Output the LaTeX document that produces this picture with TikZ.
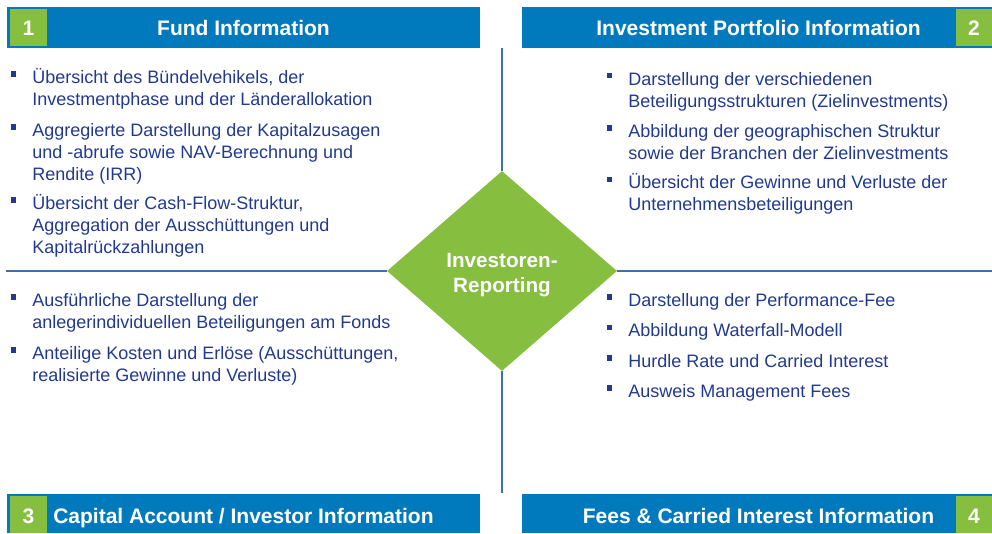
\documentclass[tikz,border=0pt]{standalone}
\usepackage{fontspec}
\setmainfont{Liberation Sans}
\usetikzlibrary{shapes.geometric}
\definecolor{hdrblue}{RGB}{0,122,189}
\definecolor{grn}{RGB}{134,190,64}
\definecolor{txtblue}{RGB}{33,58,143}
\definecolor{lineblue}{RGB}{62,112,175}
\begin{document}
\begin{tikzpicture}[x=0.75pt,y=-0.75pt,
  hdrbar/.style={fill=hdrblue, draw=none, inner sep=0pt, minimum height=30.75pt},
  numbox/.style={fill=grn, draw=none, inner sep=0pt, minimum width=27.75pt, minimum height=27.75pt},
  hdrtext/.style={text=white, inner sep=0pt, font=\fontsize{15.75}{18}\selectfont\bfseries},
  item/.style={text=txtblue, inner sep=0pt, anchor=base west, align=left, font=\fontsize{13.5}{16.5}\selectfont},
  bul/.style={fill=txtblue, draw=none, inner sep=0pt, minimum size=3.9pt},
  divider/.style={draw=lineblue, line width=2.2pt},
  centerdia/.style={diamond, fill=grn, draw=none, inner sep=0pt, minimum width=172.5pt, minimum height=150pt},
  diatext/.style={text=white, inner sep=0pt, anchor=base, align=center, font=\fontsize{15.5}{18.75}\selectfont\bfseries}
]
\useasboundingbox (0,0) rectangle (992,533);

% headers
\node[hdrbar, minimum width=354.75pt] (h1) at (243.5,27.5) {};
\node[numbox] (n1) at (28.5,27.5) {};
\node[hdrtext, anchor=base] (t1) at (243.5,35) {Fund Information};
\node[hdrtext, anchor=base] (k1) at (28.5,35) {1};

\node[hdrbar, minimum width=352.5pt] (h2) at (757,27.5) {};
\node[numbox, minimum width=27pt] (n2) at (974,27.5) {};
\node[hdrtext, anchor=base] (t2) at (758.5,35) {Investment Portfolio Information};
\node[hdrtext, anchor=base] (k2) at (974,35) {2};

\node[hdrbar, minimum width=354.75pt, minimum height=29.25pt] (h3) at (243.5,513.5) {};
\node[numbox] (n3) at (28.5,514.5) {};
\node[hdrtext, anchor=base west] (t3) at (53,523) {Capital Account / Investor Information};
\node[hdrtext, anchor=base] (k3) at (28.5,523) {3};

\node[hdrbar, minimum width=352.5pt, minimum height=29.25pt] (h4) at (757,513.5) {};
\node[numbox, minimum width=27pt] (n4) at (974,514.5) {};
\node[hdrtext, anchor=base] (t4) at (758.5,523) {Fees \& Carried Interest Information};
\node[hdrtext, anchor=base] (k4) at (974,523) {4};

% center diamond and dividers
\node[centerdia] (dia) at (502,271) {};
\node[diatext] (dtxt) at (502,292) {Investoren-\\Reporting};
\coordinate (vtop) at (502,48);
\coordinate (vbot) at (502,493);
\coordinate (hleft) at (6,271);
\coordinate (hright) at (992,271);
\draw[divider] (vtop) -- (dia.north);
\draw[divider] (dia.south) -- (vbot);
\draw[divider] (hleft) -- (dia.west);
\draw[divider] (dia.east) -- (hright);

% quadrant 1 (node positions = baseline of last line)
\node[bul] (b11) at (13.5,74) {};
\node[item] (i11) at (32,105) {Übersicht des Bündelvehikels, der\\Investmentphase und der Länderallokation};
\node[bul] (b12) at (13.5,127) {};
\node[item] (i12) at (32,180.5) {Aggregierte Darstellung der Kapitalzusagen\\und -abrufe sowie NAV-Berechnung und\\Rendite (IRR)};
\node[bul] (b13) at (13.5,200) {};
\node[item] (i13) at (32,253.5) {Übersicht der Cash-Flow-Struktur,\\Aggregation der Ausschüttungen und\\Kapitalrückzahlungen};

% quadrant 2
\node[bul] (b21) at (609.5,75.5) {};
\node[item] (i21) at (628,107) {Darstellung der verschiedenen\\Beteiligungsstrukturen (Zielinvestments)};
\node[bul] (b22) at (609.5,128) {};
\node[item] (i22) at (628,159.5) {Abbildung der geographischen Struktur\\sowie der Branchen der Zielinvestments};
\node[bul] (b23) at (609.5,179.5) {};
\node[item] (i23) at (628,210.5) {Übersicht der Gewinne und Verluste der\\Unternehmensbeteiligungen};

% quadrant 3
\node[bul] (b31) at (13.5,297) {};
\node[item] (i31) at (32,328.5) {Ausführliche Darstellung der\\anlegerindividuellen Beteiligungen am Fonds};
\node[bul] (b32) at (13.5,350) {};
\node[item] (i32) at (32,381.5) {Anteilige Kosten und Erlöse (Ausschüttungen,\\realisierte Gewinne und Verluste)};

% quadrant 4
\node[bul] (b41) at (609.5,297) {};
\node[item] (i41) at (628,306.5) {Darstellung der Performance-Fee};
\node[bul] (b42) at (609.5,327.5) {};
\node[item] (i42) at (628,336.5) {Abbildung Waterfall-Modell};
\node[bul] (b43) at (609.5,358) {};
\node[item] (i43) at (628,367) {Hurdle Rate und Carried Interest};
\node[bul] (b44) at (609.5,388) {};
\node[item] (i44) at (628,397) {Ausweis Management Fees};
\end{tikzpicture}
\end{document}
